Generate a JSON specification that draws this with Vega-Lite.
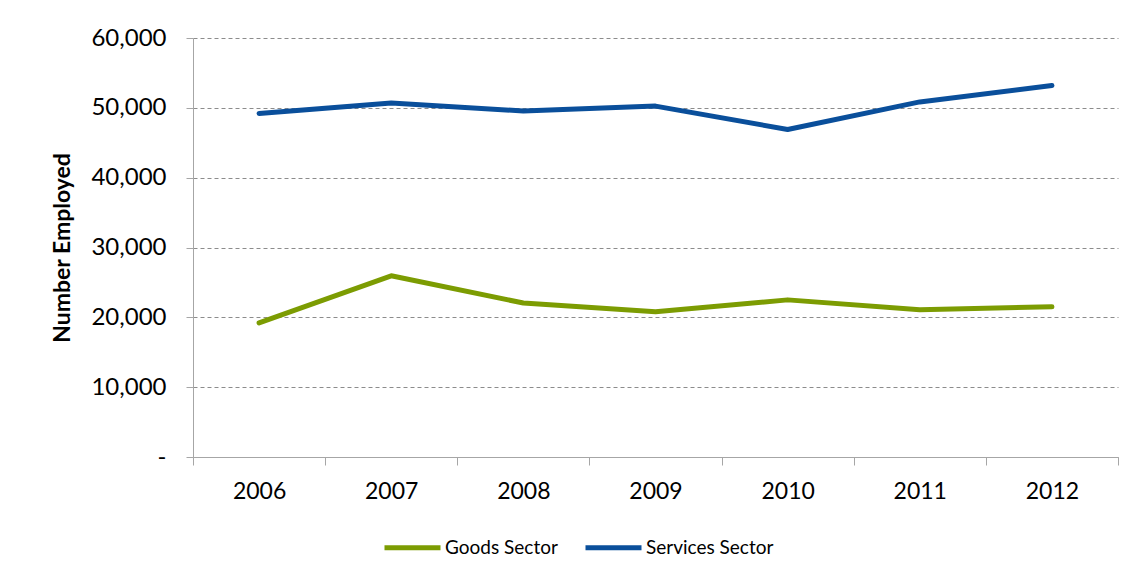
{
  "$schema": "https://vega.github.io/schema/vega-lite/v6.json",
  "autosize": "none",
  "width": 925,
  "height": 419,
  "padding": {"left": 193, "top": 38, "right": 20, "bottom": 120},
  "background": "white",
  "config": {
    "font": "Lato",
    "view": {"stroke": null}
  },
  "data": {
    "values": [
      {"year": "2006", "sector": "Goods Sector", "employed": 19200},
      {"year": "2007", "sector": "Goods Sector", "employed": 25950},
      {"year": "2008", "sector": "Goods Sector", "employed": 22050},
      {"year": "2009", "sector": "Goods Sector", "employed": 20800},
      {"year": "2010", "sector": "Goods Sector", "employed": 22500},
      {"year": "2011", "sector": "Goods Sector", "employed": 21100},
      {"year": "2012", "sector": "Goods Sector", "employed": 21500},
      {"year": "2006", "sector": "Services Sector", "employed": 49200},
      {"year": "2007", "sector": "Services Sector", "employed": 50700},
      {"year": "2008", "sector": "Services Sector", "employed": 49550},
      {"year": "2009", "sector": "Services Sector", "employed": 50250},
      {"year": "2010", "sector": "Services Sector", "employed": 46900},
      {"year": "2011", "sector": "Services Sector", "employed": 50850},
      {"year": "2012", "sector": "Services Sector", "employed": 53200}
    ]
  },
  "mark": {"type": "line", "strokeWidth": 5, "strokeCap": "round", "strokeJoin": "round"},
  "encoding": {
    "x": {
      "field": "year",
      "type": "ordinal",
      "scale": {"type": "band", "paddingInner": 0, "paddingOuter": 0},
      "axis": {
        "title": null,
        "labelAngle": 0,
        "labelFontSize": 23,
        "labelColor": "#000000",
        "labelPadding": 15,
        "tickBand": "extent",
        "tickSize": 8,
        "tickColor": "#a6a6a6",
        "domainColor": "#a6a6a6",
        "grid": false
      }
    },
    "y": {
      "field": "employed",
      "type": "quantitative",
      "scale": {"domain": [0, 60000], "nice": false},
      "axis": {
        "title": "Number Employed",
        "titleFontSize": 23,
        "titleFontWeight": "bold",
        "titleColor": "#000000",
        "titlePadding": 16,
        "values": [0, 10000, 20000, 30000, 40000, 50000, 60000],
        "labelExpr": "datum.value == 0 ? '-' : format(datum.value, ',')",
        "labelFontSize": 24,
        "labelColor": "#000000",
        "labelPadding": 20,
        "tickSize": 7,
        "tickColor": "#a6a6a6",
        "domainColor": "#a6a6a6",
        "grid": true,
        "gridColor": "#8c8c8c",
        "gridDash": [4, 3],
        "gridWidth": 1
      }
    },
    "color": {
      "field": "sector",
      "type": "nominal",
      "scale": {"domain": ["Goods Sector", "Services Sector"], "range": ["#7c9c02", "#0a4f9b"]},
      "legend": {
        "title": null,
        "orient": "none",
        "direction": "horizontal",
        "legendX": 189,
        "legendY": 479,
        "symbolType": "stroke",
        "symbolStrokeWidth": 5,
        "symbolSize": 3136,
        "labelFontSize": 19,
        "labelColor": "#000000",
        "labelOffset": 2,
        "columnPadding": 17
      }
    }
  }
}
